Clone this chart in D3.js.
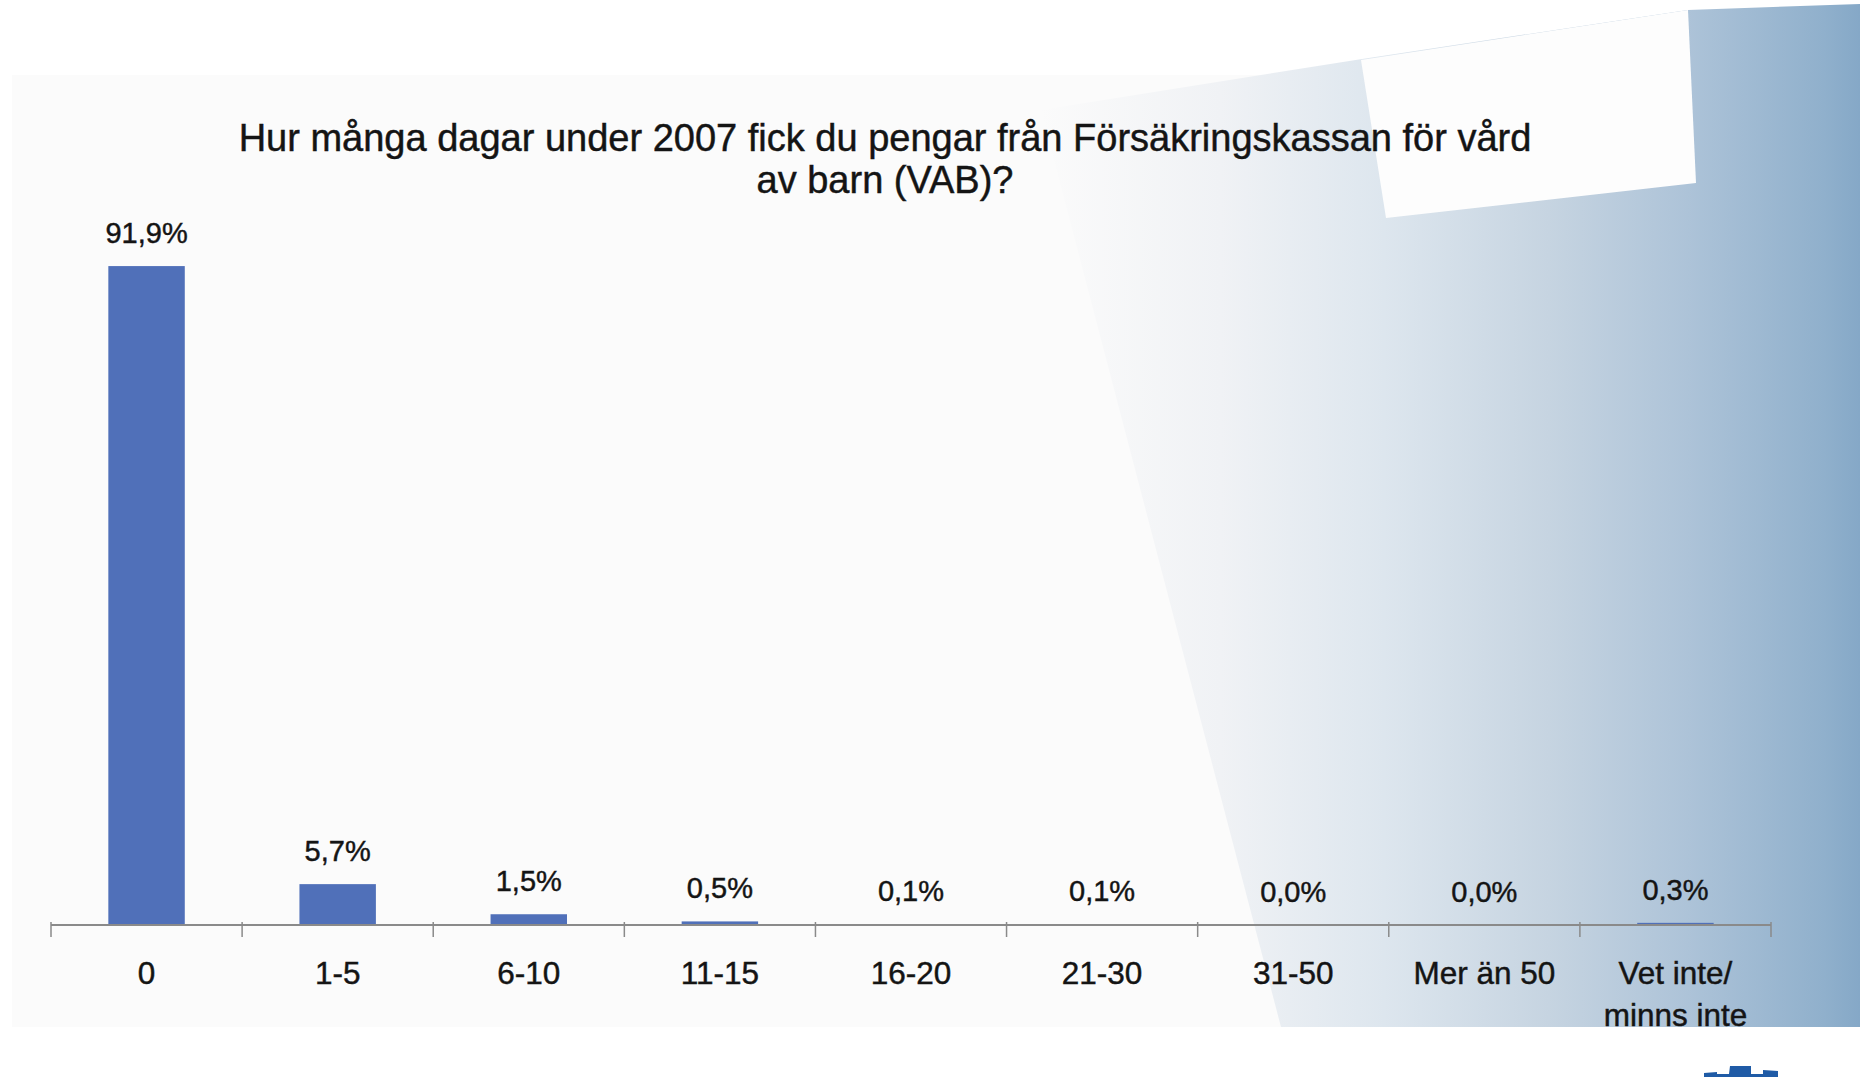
<!DOCTYPE html>
<html>
<head>
<meta charset="utf-8">
<script src="https://cdn.jsdelivr.net/npm/d3@7"></script>
<style>
  html, body { margin: 0; padding: 0; background: #ffffff; }
  svg { display: block; }
  text { font-family: "Liberation Sans", Arial, Helvetica, sans-serif; fill: #141414; stroke: #141414; stroke-width: 0.45px; }
</style>
</head>
<body>
<div id="chart"></div>
<script>
const width = 1860, height = 1077;

// data
const categories = ["0", "1-5", "6-10", "11-15", "16-20", "21-30", "31-50", "Mer än 50", "Vet inte/\nminns inte"];
const values = [91.9, 5.7, 1.5, 0.5, 0.1, 0.1, 0.0, 0.0, 0.3];
const titleLines = ["Hur många dagar under 2007 fick du pengar från Försäkringskassan för vård", "av barn (VAB)?"];

const svg = d3.select("#chart")
	.append("svg")
	.attr("width", width)
	.attr("height", height);

// swedish number format, comma as decimal mark
const sv = d3.formatLocale({decimal: ",", thousands: " ", grouping: [3], currency: ["", " kr"]});
const pct = v => sv.format(".1f")(v) + "%";

const x = d3.scaleBand()
	.domain(categories)
	.range([51, 1771])
	.padding(0);

const y = d3.scaleLinear()
	.domain([0, 100])
	.range([925, 208]);

// ---- background: slide panel + tilted blue pages ----
const defs = svg.append("defs");
const grad = defs.append("linearGradient")
	.attr("id", "blueGrad")
	.attr("gradientUnits", "userSpaceOnUse")
	.attr("x1", 1040).attr("y1", 0)
	.attr("x2", 1860).attr("y2", 0);
[[0, "#fbfbfb"], [0.22, "#f0f2f5"], [0.42, "#dde6ee"], [0.62, "#c6d4e1"],
 [0.79, "#adc3d8"], [0.956, "#90b0cc"], [1, "#85a8c7"]].forEach(s => {
	grad.append("stop").attr("offset", s[0]).attr("stop-color", s[1]);
});

const bg = svg.append("g").attr("id", "bg_layer");

bg.append("rect")
	.attr("x", 12).attr("y", 75)
	.attr("width", width - 12).attr("height", 952)
	.attr("fill", "#fbfbfb");

bg.append("path")
	.attr("d", "M1041,110 L1362,59 L1688,10 L1860,4 L1860,1027 L1281,1027 Z")
	.attr("fill", "url(#blueGrad)");

bg.append("path")
	.attr("d", "M1361,60 L1688,10 L1696,183 L1386,218 Z")
	.attr("fill", "#fdfdfd");

// small piece of logo at the bottom edge
bg.append("path")
	.attr("d", "M1704,1077 L1704,1073 L1717,1072 L1717,1074 L1729,1074 L1730,1066 L1751,1066 L1751,1074 L1763,1074 L1763,1070 L1778,1071 L1778,1077 Z")
	.attr("fill", "#1f5ba6");

// ---- title ----
svg.append("g")
	.selectAll("text")
	.data(titleLines)
	.enter()
	.append("text")
	.attr("x", 885)
	.attr("y", (d, i) => 151 + i * 42)
	.attr("text-anchor", "middle")
	.attr("font-size", 38)
	.text(d => d);

// ---- bars ----
const barW = x.bandwidth() * 0.4;
const chart = svg.append("g").attr("id", "bar_layer");

chart.selectAll(".bar")
	.data(values)
	.enter()
	.append("rect")
	.classed("bar", true)
	.attr("x", (d, i) => x(categories[i]) + (x.bandwidth() - barW) / 2)
	.attr("y", d => y(d))
	.attr("width", barW)
	.attr("height", d => Math.max(0, y(0) - y(d)))
	.attr("fill", "#5070b9");

chart.selectAll(".val")
	.data(values)
	.enter()
	.append("text")
	.classed("val", true)
	.attr("x", (d, i) => x(categories[i]) + x.bandwidth() / 2)
	.attr("y", d => y(d) - 23)
	.attr("text-anchor", "middle")
	.attr("font-size", 29)
	.text(d => pct(d));

// ---- axis: line, ticks at band edges, labels ----
const axis = svg.append("g").attr("id", "axis_layer");
axis.append("line")
	.attr("x1", x.range()[0]).attr("x2", x.range()[1])
	.attr("y1", y(0)).attr("y2", y(0))
	.attr("stroke", "#8a8a8a")
	.attr("stroke-width", 2);

const edges = categories.map(c => x(c)).concat([x.range()[1]]);
axis.selectAll(".tick")
	.data(edges)
	.enter()
	.append("line")
	.classed("tick", true)
	.attr("x1", d => d).attr("x2", d => d)
	.attr("y1", y(0) - 3).attr("y2", y(0) + 12)
	.attr("stroke", "#8a8a8a")
	.attr("stroke-width", 1.5);

const labels = axis.selectAll(".cat")
	.data(categories)
	.enter()
	.append("text")
	.classed("cat", true)
	.attr("text-anchor", "middle")
	.attr("font-size", 31.5);

labels.selectAll("tspan")
	.data(d => d.split("\n").map(t => ({t: t, c: d})))
	.enter()
	.append("tspan")
	.attr("x", d => x(d.c) + x.bandwidth() / 2)
	.attr("y", (d, i) => 984 + i * 41.5)
	.text(d => d.t);
</script>
</body>
</html>
